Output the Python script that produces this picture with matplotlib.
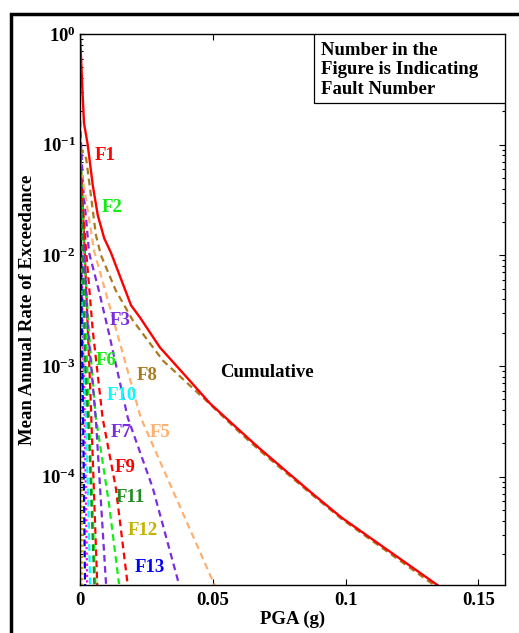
import numpy as np
import matplotlib
matplotlib.use("Agg")
import matplotlib.pyplot as plt
from matplotlib.patches import Rectangle
from matplotlib.ticker import LogLocator, FixedLocator, FuncFormatter, NullFormatter

plt.rcParams['font.family'] = ['Liberation Serif', 'DejaVu Serif']
plt.rcParams['font.weight'] = 'bold'
plt.rcParams['mathtext.fontset'] = 'custom'
plt.rcParams['mathtext.rm'] = 'Liberation Serif:bold'
plt.rcParams['mathtext.it'] = 'Liberation Serif:bold'
plt.rcParams['mathtext.bf'] = 'Liberation Serif:bold'

# hazard curves (PGA in g, annual rate)
cum_pga = [0, 0.001, 0.0015, 0.0029, 0.0048, 0.0067, 0.0091, 0.0117, 0.0192, 0.0226,
           0.0301, 0.0402, 0.0489, 0.0602, 0.0677, 0.0876, 0.0985, 0.135]
cum_rate = [1.0, 0.28, 0.157, 0.1, 0.043, 0.023, 0.0143, 0.0105, 0.00354, 0.00274,
            0.00147, 7.9e-4, 4.6e-4, 2.6e-4, 1.79e-4, 7.0e-5, 4.26e-5, 1.03e-5]

f1_pga = [0, 0.001, 0.0025, 0.004, 0.0065]
f1_rate = [0.09, 0.03, 0.004, 5e-4, 1.05e-5]
f2_pga = [0, 0.001, 0.002, 0.0035, 0.0058]
f2_rate = [0.127, 0.02, 0.003, 3e-4, 1.05e-5]
f3_pga = [0, 0.0011, 0.0023, 0.0034, 0.0071, 0.0109, 0.018, 0.0274, 0.0372]
f3_rate = [0.167, 0.043, 0.0216, 0.0106, 0.0048, 0.00197, 3.4e-4, 7.9e-5, 1.08e-5]
f4_pga = [0, 0.0008, 0.0018, 0.0027]
f4_rate = [0.06, 0.004, 3e-4, 1.05e-5]
f5_pga = [0, 0.002, 0.0053, 0.0229, 0.0288, 0.0474, 0.0508]
f5_rate = [0.07, 0.035, 0.011, 3.4e-4, 1.62e-4, 1.58e-5, 1.03e-5]
f6_pga = [0, 0.0005, 0.0015, 0.0034, 0.006, 0.0109, 0.0147]
f6_rate = [0.12, 0.05, 0.011, 0.00197, 3.4e-4, 5.7e-5, 1.07e-5]
f7_pga = [0, 0.00075, 0.003, 0.006, 0.0098]
f7_rate = [0.1, 0.03, 0.0021, 3.2e-4, 1.07e-5]
f8_pga = [0, 0.0023, 0.0041, 0.006, 0.0079, 0.0135, 0.0199, 0.0312, 0.0474,
          0.0602, 0.0677, 0.0876, 0.0985, 0.134]
f8_rate = [0.095, 0.0755, 0.035, 0.0152, 0.010, 0.0048, 0.00258, 0.00112, 4.9e-4,
           2.5e-4, 1.72e-4, 6.8e-5, 4.15e-5, 1.02e-5]
f9_pga = [0, 0.001, 0.0023, 0.0048, 0.0085, 0.0135, 0.0179]
f9_rate = [0.08, 0.03, 0.011, 0.0021, 3.4e-4, 7.9e-5, 1.08e-5]
f10_pga = [0, 0.001, 0.002, 0.0032, 0.0038]
f10_rate = [0.08, 0.005, 5e-4, 5e-5, 1.05e-5]
f11_pga = [0, 0.0005, 0.002, 0.0035, 0.0054]
f11_rate = [0.1, 0.03, 1e-3, 2e-4, 1.05e-5]
f12_pga = [0, 0.0004, 0.0008]
f12_rate = [0.05, 0.002, 1.05e-5]
f13_pga = [0, 0.0005, 0.0012, 0.0019]
f13_rate = [0.07, 0.005, 3e-4, 1.05e-5]

faults = [
    (f1_pga, f1_rate, '#ff0000', '--'),
    (f2_pga, f2_rate, '#11ee11', '--'),
    (f3_pga, f3_rate, '#7b2ce0', '--'),
    (f4_pga, f4_rate, '#ff00ff', ':'),
    (f5_pga, f5_rate, '#ffb070', '--'),
    (f6_pga, f6_rate, '#11ee11', '--'),
    (f7_pga, f7_rate, '#7b2ce0', '--'),
    (f8_pga, f8_rate, '#aa7a1f', '--'),
    (f9_pga, f9_rate, '#ff0000', '--'),
    (f10_pga, f10_rate, '#00ffff', '--'),
    (f11_pga, f11_rate, '#228b22', '--'),
    (f12_pga, f12_rate, '#c6b300', ':'),
    (f13_pga, f13_rate, '#0000ff', '--'),
]

# labels: text, x, y, colour
label_txt = ['F1', 'F2', 'F3', 'F6', 'F8', 'F10', 'F7', 'F5', 'F9', 'F11', 'F12', 'F13', 'Cumulative']
label_x = [0.0056, 0.0083, 0.0113, 0.006, 0.0214, 0.0101, 0.0117, 0.0263, 0.0132, 0.0135, 0.018, 0.0207, 0.0526]
label_y = [0.080, 0.027, 2.58e-3, 1.12e-3, 8.2e-4, 5.4e-4, 2.5e-4, 2.5e-4, 1.2e-4, 6.45e-5, 3.24e-5, 1.5e-5, 8.7e-4]
label_c = ['#ff0000', '#11ee11', '#7b2ce0', '#11ee11', '#aa7a1f', '#00ffff', '#7b2ce0', '#ffb070',
           '#ff0000', '#228b22', '#c6b300', '#0000ff', 'black']

x_ticks = [0, 0.05, 0.1, 0.15]

fig = plt.figure(figsize=(5.19, 6.33), dpi=100)
ax = fig.add_axes([80/519, 1-585/633, 425/519, 551/633])

for xs, ys, c, ls in faults:
    if ls == ':':
        ax.plot(xs, ys, color=c, lw=1.6, linestyle=(0, (1, 1.5)))
    else:
        ax.plot(xs, ys, color=c, lw=1.6, linestyle=(0, (3, 2)))
ax.plot(cum_pga, cum_rate, color='#ff0000', lw=1.7)

for t, x, y, c in zip(label_txt, label_x, label_y, label_c):
    ax.text(x, y, t, color=c, fontsize=13.5, fontweight='bold', ha='left', va='center')

ax.set_yscale('log')
ax.set_xlim(0, 0.16)
ax.set_ylim(1.05e-5, 1)

ax.xaxis.set_major_locator(FixedLocator(x_ticks))
ax.xaxis.set_major_formatter(FuncFormatter(lambda v, p: '%g' % v))
ax.yaxis.set_major_locator(LogLocator(base=10, numticks=10))
ax.yaxis.set_minor_locator(LogLocator(base=10, subs=np.arange(2, 10), numticks=10))
ax.yaxis.set_minor_formatter(NullFormatter())
ax.yaxis.set_major_formatter(FuncFormatter(lambda v, p: r'$10^{%d}$' % round(np.log10(v))))

ax.tick_params(which='both', direction='in', top=True, right=True, labelsize=13.5)
ax.tick_params(which='major', length=4, width=0.8)
ax.tick_params(which='minor', length=2.5, width=0.8)
ax.tick_params(axis='x', pad=5)
ax.tick_params(axis='y', pad=3)
for s in ax.spines.values():
    s.set_linewidth(1.0)

ax.set_xlabel('PGA (g)', fontsize=13.5, fontweight='bold')
ax.set_ylabel('Mean Annual Rate of Exceedance', fontsize=13.5, fontweight='bold')
ax.xaxis.set_label_coords(0.5, -0.047)
ax.yaxis.set_label_coords(-0.1035, 0.5)

# note box in the upper right corner
ax.add_patch(Rectangle((234/425, 482/551), 1 - 234/425, 1 - 482/551, transform=ax.transAxes,
                       facecolor='white', edgecolor='black', lw=0.9, zorder=5))
ax.text(241/425, (585-70)/551, 'Number in the\nFigure is Indicating\nFault Number',
        transform=ax.transAxes, fontsize=13.5, fontweight='bold', ha='left', va='center',
        linespacing=1.17, zorder=6)

# thick frame around the figure
fig.patches.append(Rectangle((11.3/519, -0.2), 1.2, 1 - 14/633 + 0.2, transform=fig.transFigure,
                             fill=False, edgecolor='black', lw=2.5, clip_on=False))

fig.savefig('out.png', dpi=100)
